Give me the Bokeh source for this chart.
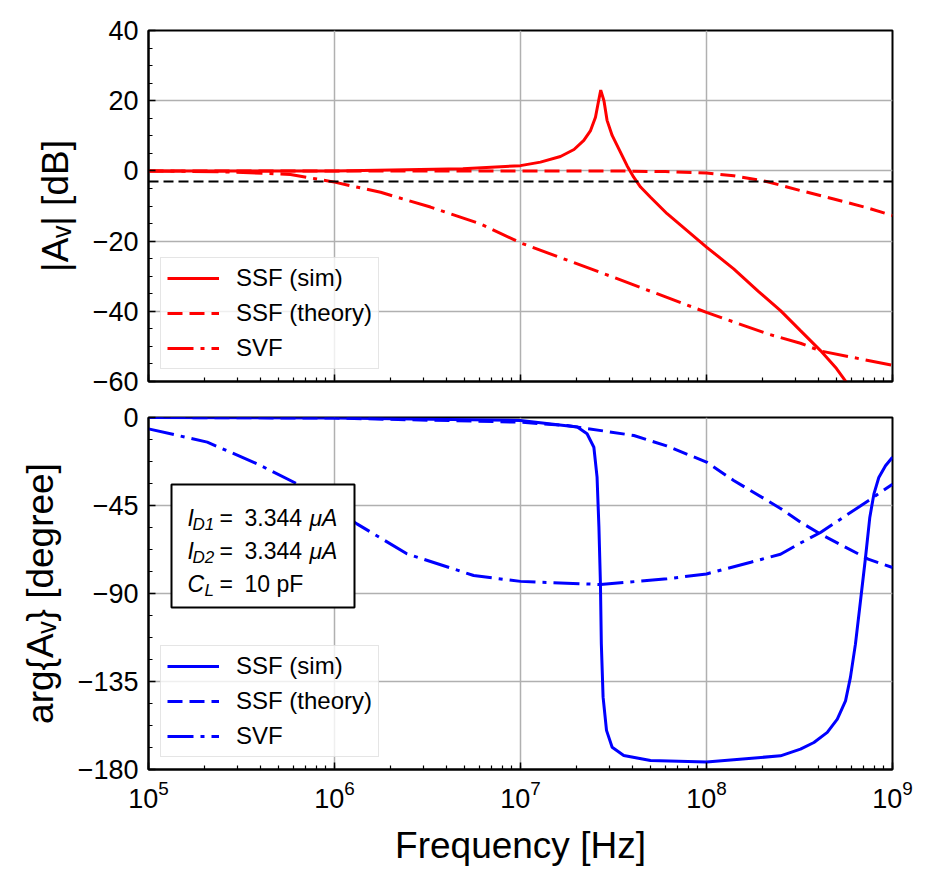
from bokeh.plotting import figure
from bokeh.layouts import column
from bokeh.models import (Range1d, LogTicker, SingleIntervalTicker, CustomJSTickFormatter,
                          Span, BoxAnnotation, Label)
from bokeh.embed import file_html
from bokeh.resources import INLINE

FONT = "Liberation Sans"

# --- magnitude [dB] ---
ssf_sim_mag_f = [1.0e5, 1.0e6, 4.9e6, 1.0e7, 1.28e7, 1.64e7, 1.94e7, 2.19e7, 2.38e7, 2.53e7,
                 2.63e7, 2.70e7, 2.81e7, 2.92e7, 3.11e7, 3.45e7, 3.74e7, 4.06e7, 4.42e7, 5.0e7,
                 6.14e7, 1.0e8, 1.40e8, 1.90e8, 2.50e8, 3.20e8, 4.10e8, 5.0e8, 5.70e8]
ssf_sim_mag = [0.0, 0.0, 0.6, 1.5, 2.5, 4.1, 6.1, 8.7, 11.5, 15.3,
               20.0, 23.0, 20.0, 14.4, 10.1, 5.3, 1.5, -1.8, -4.6, -7.5,
               -12.2, -21.7, -27.9, -34.3, -39.8, -45.5, -51.2, -56.3, -60.5]

ssf_th_mag_f = [1.0e5, 1.0e7, 3.0e7, 6.0e7, 1.0e8, 1.4e8, 2.1e8, 3.2e8, 4.83e8, 7.3e8, 1.0e9]
ssf_th_mag = [0.0, 0.0, 0.0, -0.2, -0.6, -1.4, -3.0, -5.6, -8.0, -10.5, -12.7]

svf_mag_f = [1.0e5, 2.76e5, 5.8e5, 1.0e6, 1.77e6, 3.28e6, 6.1e6, 1.0e7, 3.16e7, 1.0e8,
             2.12e8, 3.2e8, 4.1e8, 1.0e9]
svf_mag = [0.0, -0.3, -1.0, -3.2, -6.1, -10.3, -15.1, -20.5, -30.3, -40.3,
           -46.4, -49.1, -51.3, -55.4]

cutoff_db = -3

# --- phase [degree] ---
ssf_sim_ph_f = [1.0e5, 1.0e6, 1.0e7, 2.02e7, 2.28e7, 2.48e7, 2.58e7, 2.64e7, 2.69e7, 2.72e7,
                2.78e7, 2.90e7, 3.11e7, 3.59e7, 5.0e7, 1.0e8, 2.5e8, 3.2e8, 3.78e8, 4.46e8,
                5.05e8, 5.59e8, 5.94e8, 6.32e8, 6.73e8, 7.16e8, 7.55e8, 7.94e8, 8.44e8, 9.17e8,
                1.0e9]
ssf_sim_ph = [0.0, -0.3, -1.5, -4.9, -8.3, -15.2, -30.5, -56.0, -85.0, -115.7,
              -143.0, -160.0, -168.6, -172.8, -175.4, -176.2, -173.0, -169.6, -166.2, -161.0,
              -154.2, -144.9, -132.9, -115.9, -93.7, -71.6, -51.1, -39.2, -30.7, -24.7,
              -20.3]

ssf_th_ph_f = [1.0e5, 1.0e6, 1.0e7, 1.78e7, 4.07e7, 6.1e7, 1.0e8, 1.4e8, 2.12e8, 2.5e8,
               3.2e8, 4.1e8, 7.4e8, 1.0e9]
ssf_th_ph = [0.0, -0.3, -2.4, -4.1, -9.2, -14.5, -22.8, -32.2, -42.4, -46.5,
             -53.5, -59.6, -72.4, -76.7]

svf_ph_f = [1.0e5, 2.07e5, 3.84e5, 6.56e5, 1.0e6, 1.32e6, 2.45e6, 5.6e6, 1.0e7, 2.69e7,
            6.14e7, 1.0e8, 1.73e8, 2.5e8, 3.2e8, 4.1e8, 7.62e8, 1.0e9]
svf_ph = [-5.8, -12.6, -23.7, -34.8, -46.5, -54.4, -69.7, -80.8, -83.8, -85.4,
          -82.5, -80.0, -74.0, -69.9, -64.2, -58.8, -41.8, -34.1]

legend_names = ["SSF (sim)", "SSF (theory)", "SVF"]
dashes = ["solid", "15 7", "26 7 4 7"]

# annotation text: (symbol, subscript, value, unit)
info_rows = [("I", "D1", "3.344", "\u03bcA"),
             ("I", "D2", "3.344", "\u03bcA"),
             ("C", "L", "10 pF", "")]


def minus_fmt():
    return CustomJSTickFormatter(
        code="return (tick < 0 ? '\u2212' : '') + Math.abs(tick).toFixed(0)")


def style(p, y_interval):
    p.outline_line_color = "black"
    p.outline_line_width = 2
    xt = LogTicker(num_minor_ticks=10)
    yt = SingleIntervalTicker(interval=y_interval, num_minor_ticks=4)
    p.xaxis.ticker = xt
    p.xgrid.ticker = xt
    p.yaxis.ticker = yt
    p.ygrid.ticker = yt
    p.yaxis.formatter = minus_fmt()
    for ax in p.xaxis + p.yaxis:
        ax.axis_line_color = "black"
        ax.axis_line_width = 2
        ax.major_tick_in = 7
        ax.major_tick_out = 0
        ax.minor_tick_in = 4
        ax.minor_tick_out = 0
        ax.major_tick_line_width = 1.5
        ax.minor_tick_line_width = 1.2
        ax.major_tick_line_color = "black"
        ax.minor_tick_line_color = "black"
        ax.major_label_text_font = FONT
        ax.major_label_text_font_size = "27px"
        ax.major_label_text_color = "black"
        ax.major_label_standoff = 10
        ax.axis_label_text_font = FONT
        ax.axis_label_text_font_size = "37px"
        ax.axis_label_text_font_style = "normal"
        ax.axis_label_text_color = "black"
        ax.axis_label_standoff = 14
    p.grid.grid_line_color = "#b0b0b0"
    p.grid.grid_line_width = 1.5
    p.legend.location = "bottom_left"
    p.legend.margin = 12
    p.legend.padding = 6
    p.legend.spacing = 7
    p.legend.glyph_width = 52
    p.legend.glyph_height = 28
    p.legend.label_height = 28
    p.legend.label_standoff = 17
    p.legend.label_text_font = FONT
    p.legend.label_text_font_size = "24px"
    p.legend.label_text_color = "black"
    p.legend.border_line_color = "#cccccc"
    p.legend.border_line_width = 1.5
    p.legend.background_fill_alpha = 0.8


x_range = Range1d(1e5, 1e9)

# ---- magnitude plot ----
p1 = figure(x_axis_type="log", x_range=x_range, y_range=Range1d(-60, 40),
            frame_width=744, frame_height=351, min_border_left=148, min_border_right=36,
            min_border_top=30, min_border_bottom=18,
            output_backend="svg", toolbar_location=None)
p1.line(ssf_sim_mag_f, ssf_sim_mag, color="red", line_width=3, line_dash=dashes[0],
        legend_label=legend_names[0])
p1.line(ssf_th_mag_f, ssf_th_mag, color="red", line_width=3, line_dash=dashes[1],
        legend_label=legend_names[1])
p1.line(svf_mag_f, svf_mag, color="red", line_width=3, line_dash=dashes[2],
        legend_label=legend_names[2])
p1.add_layout(Span(location=cutoff_db, dimension="width", line_color="black",
                   line_width=2, line_dash="10 5"))
p1.yaxis.axis_label = "|A\u1d65| [dB]"
style(p1, 20)
# shared x axis: no labels on the upper panel
p1.xaxis.formatter = CustomJSTickFormatter(code="return ''")
p1.xaxis.major_label_standoff = 0

# ---- phase plot ----
p2 = figure(x_axis_type="log", x_range=x_range, y_range=Range1d(-180, 0),
            frame_width=744, frame_height=352, min_border_left=148, min_border_right=36,
            min_border_top=18, min_border_bottom=105,
            output_backend="svg", toolbar_location=None)
p2.line(ssf_sim_ph_f, ssf_sim_ph, color="blue", line_width=3, line_dash=dashes[0],
        legend_label=legend_names[0])
p2.line(ssf_th_ph_f, ssf_th_ph, color="blue", line_width=3, line_dash=dashes[1],
        legend_label=legend_names[1])
p2.line(svf_ph_f, svf_ph, color="blue", line_width=3, line_dash=dashes[2],
        legend_label=legend_names[2])
p2.xaxis.axis_label = "Frequency [Hz]"
p2.yaxis.axis_label = "arg{A\u1d65} [degree]"
style(p2, 45)

# parameter box (screen units, relative to the frame)
p2.add_layout(BoxAnnotation(left=23, right=206, bottom=162, top=285,
                            left_units="screen", right_units="screen",
                            bottom_units="screen", top_units="screen",
                            fill_color="white", fill_alpha=1.0,
                            line_color="black", line_alpha=1.0, line_width=2))


def put(p, x, y, text, size, style="normal"):
    p.add_layout(Label(x=x, y=y, x_units="screen", y_units="screen", text=text,
                       text_font=FONT, text_font_size=size, text_font_style=style,
                       text_color="black", text_baseline="alphabetic"))


for i, (sym, sub, val, unit) in enumerate(info_rows):
    base = 252 - i * 33
    put(p2, 39, base, sym, "23px", "italic")
    put(p2, 44 if sym == "I" else 56, base - 7, sub, "17px", "italic")
    put(p2, 71, base, "=", "23px")
    put(p2, 96, base, val, "23px")
    if unit:
        put(p2, 161, base, unit, "23px", "italic")

layout = column(p1, p2)
open("out.html", "w").write(file_html(layout, INLINE))
